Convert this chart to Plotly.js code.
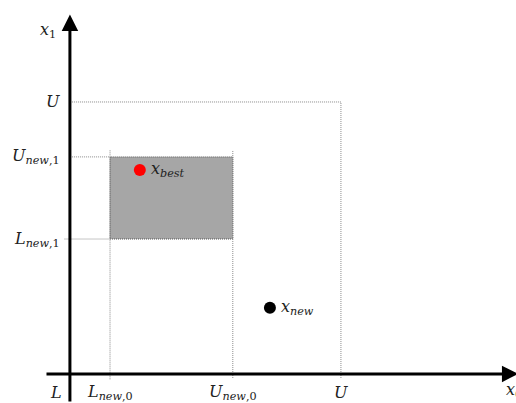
<!DOCTYPE html>
<html>
<head>
<meta charset="utf-8">
<script src="https://cdn.plot.ly/plotly-3.0.1.min.js"></script>
<style>
  html, body { margin: 0; padding: 0; background: #fff; }
  #chart { width: 516px; height: 403px; }
</style>
</head>
<body>
<div id="chart"></div>
<script>
// Search domain bounds (both dimensions scaled to [L, U])
const L = 0;
const U = 1;

// Shrunk sub-region around the incumbent
const newLower = [0.148, 0.496];   // L_new,0 , L_new,1
const newUpper = [0.601, 0.798];   // U_new,0 , U_new,1

// Points
const bestPoint = [0.258, 0.750];  // x_best
const newPoint  = [0.738, 0.243];  // x_new

// Tick-like labels
const xLabels = ['<i>L</i>', '<i>L</i><sub><i>new</i>,0</sub>', '<i>U</i><sub><i>new</i>,0</sub>', '<i>U</i>'];
const xLabelVals = [L, newLower[0], newUpper[0], U];
const yLabels = ['<i>U</i>', '<i>U</i><sub><i>new</i>,1</sub>', '<i>L</i><sub><i>new</i>,1</sub>'];
const yLabelVals = [U, newUpper[1], newLower[1]];

const xRange = [-0.258, 1.646];
const yRange = [-0.107, 1.375];

const FONT = 'DejaVu Serif, Liberation Serif, serif';
const dotLine = { color: '#8a8a8a', width: 1, dash: '1px,1px' };

const shapes = [
  // shaded sub-region
  { type: 'rect', xref: 'x', yref: 'y', x0: newLower[0], x1: newUpper[0], y0: newLower[1], y1: newUpper[1],
    fillcolor: '#a6a6a6', line: { color: '#555555', width: 1, dash: '1px,1px' }, layer: 'below' },
  // domain boundary U
  { type: 'line', xref: 'x', yref: 'y', x0: L, x1: U, y0: U, y1: U, line: dotLine },
  { type: 'line', xref: 'x', yref: 'y', x0: U, x1: U, y0: -0.015, y1: U, line: dotLine },
  // guides for the sub-region
  { type: 'line', xref: 'x', yref: 'y', x0: L, x1: newLower[0], y0: newUpper[1], y1: newUpper[1], line: dotLine },
  { type: 'line', xref: 'x', yref: 'y', x0: -0.02, x1: newLower[0], y0: newLower[1], y1: newLower[1], line: dotLine },
  { type: 'line', xref: 'x', yref: 'y', x0: newLower[0], x1: newLower[0], y0: -0.02, y1: newUpper[1] + 0.025, line: dotLine },
  { type: 'line', xref: 'x', yref: 'y', x0: newUpper[0], x1: newUpper[0], y0: -0.015, y1: newUpper[1] + 0.025, line: dotLine }
];

const annotations = [];
// coordinate axes with arrowheads
annotations.push({ xref: 'x', yref: 'y', axref: 'x', ayref: 'y',
  x: L, y: 1.322, ax: L, ay: yRange[0], showarrow: true, arrowhead: 2, arrowsize: 1.1,
  arrowwidth: 3, arrowcolor: '#000', text: '' });
annotations.push({ xref: 'x', yref: 'y', axref: 'x', ayref: 'y',
  x: 1.655, y: L, ax: -0.092, ay: L, showarrow: true, arrowhead: 2, arrowsize: 1.1,
  arrowwidth: 3, arrowcolor: '#000', text: '' });

const labelFont = { family: FONT, size: 16, color: '#222' };
xLabelVals.forEach((v, i) => {
  annotations.push({ xref: 'x', yref: 'y', x: v, y: L, yshift: -19, xshift: i === 0 ? -14 : 0,
    text: xLabels[i], showarrow: false, font: labelFont, xanchor: 'center', yanchor: 'middle' });
});
yLabelVals.forEach((v, i) => {
  annotations.push({ xref: 'x', yref: 'y', x: L, y: v, xshift: -8,
    text: yLabels[i], showarrow: false, font: labelFont, xanchor: 'right', yanchor: 'middle' });
});
// axis names
annotations.push({ xref: 'x', yref: 'y', x: L, y: 1.262, xshift: -12, text: '<i>x</i><sub>1</sub>',
  showarrow: false, font: labelFont, xanchor: 'right', yanchor: 'middle' });
annotations.push({ xref: 'x', yref: 'y', x: 1.60, y: L, yshift: -17, text: '<i>x</i><sub>0</sub>',
  showarrow: false, font: labelFont, xanchor: 'left', yanchor: 'middle' });
// point labels
annotations.push({ xref: 'x', yref: 'y', x: bestPoint[0], y: bestPoint[1], xshift: 9, text: '<i>x</i><sub><i>best</i></sub>',
  showarrow: false, font: labelFont, xanchor: 'left', yanchor: 'middle' });
annotations.push({ xref: 'x', yref: 'y', x: newPoint[0], y: newPoint[1], xshift: 9, text: '<i>x</i><sub><i>new</i></sub>',
  showarrow: false, font: labelFont, xanchor: 'left', yanchor: 'middle' });

const traces = [
  { type: 'scatter', mode: 'markers', x: [bestPoint[0]], y: [bestPoint[1]],
    marker: { color: '#ff0000', size: 12 }, hoverinfo: 'skip' },
  { type: 'scatter', mode: 'markers', x: [newPoint[0]], y: [newPoint[1]],
    marker: { color: '#000000', size: 12 }, hoverinfo: 'skip' }
];

const layout = {
  width: 516, height: 403,
  margin: { l: 0, r: 0, t: 0, b: 0, pad: 0 },
  paper_bgcolor: '#fff', plot_bgcolor: '#fff',
  showlegend: false,
  xaxis: { range: xRange, visible: false, fixedrange: true },
  yaxis: { range: yRange, visible: false, fixedrange: true },
  shapes: shapes,
  annotations: annotations
};

Plotly.newPlot('chart', traces, layout, { displayModeBar: false, staticPlot: true });
</script>
</body>
</html>
